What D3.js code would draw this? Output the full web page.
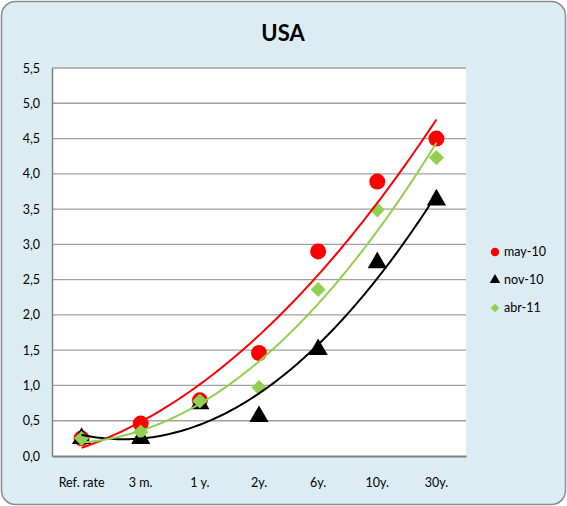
<!DOCTYPE html>
<html><head><meta charset="utf-8">
<script src="https://cdn.jsdelivr.net/npm/d3@7"></script>
<style>html,body{margin:0;padding:0;background:#fff;}svg{display:block;}</style>
</head><body>
<script>
const title = "USA";
const categories = ["Ref. rate", "3 m.", "1 y.", "2y.", "6y.", "10y.", "30y."];
const yTicks = [0, 0.5, 1, 1.5, 2, 2.5, 3, 3.5, 4, 4.5, 5, 5.5];
const seriesNames = ["may-10", "nov-10", "abr-11"];
const may10 = [0.25, 0.46, 0.79, 1.46, 2.90, 3.89, 4.50];
const nov10 = [0.25, 0.25, 0.74, 0.56, 1.51, 2.74, 3.63];
const abr11 = [0.25, 0.34, 0.78, 0.97, 2.36, 3.49, 4.23];

const W = 567, H = 506;
const font = "Lato, 'Open Sans', sans-serif";
const svg = d3.select("body").append("svg").attr("width", W).attr("height", H);

svg.append("rect").attr("x", 1.5).attr("y", 1.5).attr("width", W - 3).attr("height", H - 3)
  .attr("rx", 14).attr("fill", "#dbedf3").attr("stroke", "#8c8c8c").attr("stroke-width", 1.5);

svg.append("text").attr("x", 283).attr("y", 41).attr("text-anchor", "middle")
  .attr("font-family", font).attr("font-weight", "bold").attr("font-size", 22).text(title);

const L = 52, R = 466, T = 68, B = 456;
const x = d3.scaleBand().domain(categories).range([L, R]);
const y = d3.scaleLinear().domain([0, 5.5]).range([B, T]);

svg.append("rect").attr("x", L).attr("y", T).attr("width", R - L).attr("height", B - T).attr("fill", "#fff");

// gridlines
svg.append("g").selectAll("line").data(yTicks.filter(v => v > 0)).join("line")
  .attr("x1", L).attr("x2", R).attr("y1", d => y(d)).attr("y2", d => y(d))
  .attr("stroke", "#a0a0a0").attr("stroke-width", 1.3);

// y axis
const yAxis = d3.axisLeft(y).tickValues(yTicks).tickSize(0).tickPadding(12)
  .tickFormat(d => d3.format(".1f")(d).replace(".", ","));
const gy = svg.append("g").attr("transform", `translate(${L},0)`).call(yAxis);
gy.select(".domain").attr("stroke", "#808080").attr("stroke-width", 1.5);
gy.selectAll("text").attr("font-family", font).attr("font-size", 12.5).attr("fill", "#000");

// x axis
const xAxis = d3.axisBottom(x).tickSize(0).tickPadding(22);
const gx = svg.append("g").attr("transform", `translate(0,${B})`).call(xAxis);
gx.select(".domain").attr("stroke", "#808080").attr("stroke-width", 2);
gx.selectAll("text").attr("font-family", font).attr("font-size", 12.5).attr("fill", "#000");

const series = [
  {name: seriesNames[0], values: may10, color: "#ff0000", shape: d3.symbolCircle, size: 200, rot: 0},
  {name: seriesNames[1], values: nov10, color: "#000000", shape: d3.symbolTriangle, size: 160, rot: 0},
  {name: seriesNames[2], values: abr11, color: "#92d050", shape: d3.symbolSquare, size: 115, rot: 45}
];

// quadratic least-squares trendline
function polyfit2(xs, ys) {
  const n = xs.length;
  let s = [0,0,0,0,0], t = [0,0,0];
  for (let i = 0; i < n; i++) {
    const xi = xs[i];
    for (let k = 0; k < 5; k++) s[k] += Math.pow(xi, k);
    for (let k = 0; k < 3; k++) t[k] += ys[i] * Math.pow(xi, k);
  }
  const A = [[s[0], s[1], s[2], t[0]], [s[1], s[2], s[3], t[1]], [s[2], s[3], s[4], t[2]]];
  for (let i = 0; i < 3; i++) {
    for (let j = i + 1; j < 3; j++) {
      const f = A[j][i] / A[i][i];
      for (let k = i; k < 4; k++) A[j][k] -= f * A[i][k];
    }
  }
  const c = [0,0,0];
  for (let i = 2; i >= 0; i--) {
    let v = A[i][3];
    for (let k = i + 1; k < 3; k++) v -= A[i][k] * c[k];
    c[i] = v / A[i][i];
  }
  return c;
}

const idx = categories.map((_, i) => i + 1);
const xi = d3.scaleLinear().domain([1, categories.length])
  .range([x(categories[0]) + x.bandwidth() / 2, x(categories[categories.length - 1]) + x.bandwidth() / 2]);

series.forEach(s => {
  svg.append("g").selectAll("path").data(s.values).join("path")
    .attr("transform", (d, i) => `translate(${x(categories[i]) + x.bandwidth() / 2},${y(d)}) rotate(${s.rot})`)
    .attr("d", d3.symbol().type(s.shape).size(s.size)).attr("fill", s.color);
});

series.forEach(s => {
  const c = polyfit2(idx, s.values);
  const pts = d3.range(1, categories.length + 0.001, 0.05).map(t => [t, c[0] + c[1] * t + c[2] * t * t]);
  svg.append("path").datum(pts)
    .attr("d", d3.line().x(d => xi(d[0])).y(d => y(d[1])))
    .attr("fill", "none").attr("stroke", s.color).attr("stroke-width", 2);
});

// legend
const lg = svg.append("g");
series.forEach((s, i) => {
  const yy = 252 + i * 28;
  lg.append("path").attr("transform", `translate(495,${yy}) rotate(${s.rot})`)
    .attr("d", d3.symbol().type(s.shape).size(s.shape === d3.symbolCircle ? 55 : (s.rot ? 38 : 48))).attr("fill", s.color);
  lg.append("text").attr("x", 504).attr("y", yy).attr("dy", "0.35em")
    .attr("font-family", font).attr("font-size", 12.5).text(s.name);
});
</script>
</body></html>
